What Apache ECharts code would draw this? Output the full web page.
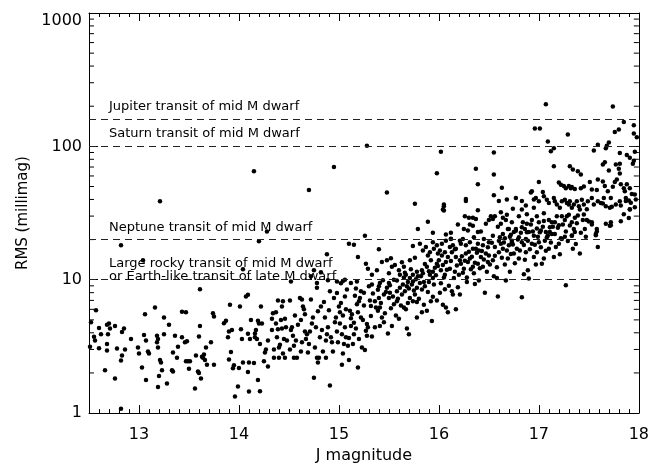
<!DOCTYPE html>
<html><head><meta charset="utf-8">
<script src="https://cdn.jsdelivr.net/npm/echarts@6/dist/echarts.min.js"></script>
<style>html,body{margin:0;padding:0;background:#fff}#c{width:652px;height:469px}</style>
</head><body><div id="c"></div>
<script>
// [J magnitude, RMS (millimag)]
const starsBright = [[13.21,38.7],[12.52,4.8],[12.57,5.9],[12.51,3.15],[12.55,3.73],[12.56,3.5],[12.60,4.34],[12.60,3.06],[12.62,3.9],[12.66,2.1],[12.68,4.6],[12.68,3.3],[12.69,3.9],[12.70,4.7],[12.71,4.3],[12.68,2.95],[12.76,4.5],[12.76,1.82],[12.78,3.05],[12.83,4.05],[12.85,4.3],[12.82,2.48],[12.83,2.7],[12.86,3.0],[12.82,1.08],[12.92,3.6],[12.99,3.1],[13.00,2.8],[13.03,2.2],[13.06,5.5],[13.05,3.85],[13.07,3.5],[13.07,1.77],[13.09,2.9],[13.10,2.8],[13.16,6.2],[13.18,3.4],[13.18,3.8],[13.19,3.6],[13.19,3.1],[13.19,1.57],[13.20,1.9],[13.21,2.5],[13.22,2.4],[13.23,2.1],[13.25,5.2],[13.25,3.9],[13.28,1.67],[13.30,4.6],[13.33,2.1],[13.34,2.05],[13.34,2.85],[13.36,3.8],[13.38,2.6],[13.39,3.15],[13.43,5.75],[13.43,3.7],[13.47,5.7],[13.47,2.45],[13.46,3.4],[13.48,3.45],[13.49,2.45],[13.50,2.15],[13.51,2.45],[13.56,1.53],[13.57,2.7],[13.59,2.05],[13.60,2.0],[13.60,3.75],[13.61,4.5],[13.62,1.82],[13.63,2.65],[13.64,2.6],[13.65,2.75],[13.66,2.5],[13.67,3.1],[13.68,2.3],[13.72,3.4],[13.74,5.6],[13.75,5.3],[13.75,2.3],[13.85,4.72],[13.87,4.93],[13.89,3.7],[13.90,4.1],[13.90,2.52],[13.91,6.5],[13.92,2.87],[13.93,4.2],[13.94,2.17],[13.95,2.28],[13.96,1.33],[13.99,1.58]];
const starsMid = [[14.00,2.18],[14.01,6.3],[14.02,4.25],[14.03,3.6],[14.04,2.4],[14.07,7.5],[14.09,2.03],[14.09,3.94],[14.10,2.4],[14.10,1.45],[14.11,3.6],[14.12,5.0],[14.15,2.37],[14.16,3.95],[14.16,3.7],[14.17,4.2],[14.18,3.6],[14.19,4.93],[14.19,1.77],[14.20,4.7],[14.21,1.46],[14.21,3.3],[14.22,6.3],[14.23,4.7],[14.25,2.45],[14.26,2.85],[14.27,3.0],[14.29,2.24],[14.29,3.5],[14.33,4.2],[14.33,5.1],[14.34,5.6],[14.35,2.6],[14.35,3.0],[14.37,4.7],[14.37,5.7],[14.38,3.7],[14.39,7.0],[14.39,4.25],[14.40,2.6],[14.40,3.1],[14.41,3.25],[14.42,5.0],[14.43,6.3],[14.43,4.3],[14.44,2.8],[14.45,3.6],[14.46,2.6],[14.46,5.1],[14.47,4.4],[14.48,3.5],[14.51,7.0],[14.51,3.0],[14.52,4.2],[14.53,4.4],[14.54,3.8],[14.55,2.6],[14.56,5.4],[14.57,3.5],[14.58,2.6],[14.61,7.3],[14.62,5.0],[14.63,3.4],[14.64,6.3],[14.65,6.0],[14.66,4.1],[14.67,3.6],[14.68,3.9],[14.69,2.85],[14.72,7.1],[14.73,4.7],[14.74,5.2],[14.75,1.84],[14.77,4.4],[14.78,2.6],[14.79,2.4],[14.80,2.6],[14.81,3.7],[14.85,6.8],[14.86,5.2],[14.87,2.6],[14.88,3.9],[14.89,4.4],[14.91,1.61],[14.92,3.7],[14.93,3.4],[14.95,7.3],[14.96,4.8],[14.97,5.2],[14.98,4.1],[15.00,6.3],[15.01,4.7],[15.02,6.7],[15.03,3.9],[15.04,5.4],[15.05,3.3],[15.06,4.4],[15.07,3.7],[14.09,7.7],[14.52,9.7],[14.72,10.6],[14.82,11.4],[14.78,9.45],[14.78,8.7],[14.89,9.9],[14.98,9.7],[14.98,7.95],[15.02,9.4],[15.04,9.8],[15.06,10],[15.06,7.5],[14.63,7.1],[14.44,6.9]];
const starsMidB = [[14.55,3.2],[14.59,4.6],[14.62,2.9],[14.66,5.5],[14.70,3.3],[14.71,4.1],[14.76,3.1],[14.79,5.8],[14.83,4.2],[14.84,2.9],[14.87,3.5],[14.90,5.9],[14.94,2.9],[14.99,3.4],[15.01,5.7],[15.04,2.8],[15.07,6.0],[15.09,3.2],[15.14,3.3],[15.17,4.3],[15.19,5.7],[15.23,3.1],[15.25,6.4],[15.29,4.4],[14.82,6.3],[14.91,8.2],[15.16,7.6],[15.21,7.3],[15.03,2.3],[15.10,2.5],[15.19,2.2]];
const starsOutlying = [[12.82,18.1],[13.04,14.0],[13.61,8.5],[14.04,12.0],[14.20,19.4],[14.28,23],[14.88,15.5],[14.75,11.8],[14.15,65],[14.70,47],[14.95,70],[15.28,101],[15.48,45]];
const starsFaintA = [[15.26,2.97],[15.20,3.6],[15.10,3.65],[15.15,3.9],[15.28,3.8],[15.33,3.75],[15.49,3.95],[15.68,4.3],[15.70,3.9],[15.12,4.5],[15.15,4.75],[15.27,4.15],[15.28,4.65],[15.41,4.5],[15.43,5.2],[15.12,5.15],[15.13,5.5],[15.11,5.85],[15.22,5.2],[15.24,5.0],[15.32,5.35],[15.39,5.85],[15.41,6.2],[15.18,6.55],[15.20,6.9],[15.32,6.35],[15.36,6.9],[15.40,7.3],[15.45,7.76],[15.50,7.3],[15.51,8.0],[15.55,6.55],[15.58,6.9],[15.65,6.2],[15.67,6.0],[15.78,5.2],[15.83,5.7],[15.88,5.85],[15.93,4.9],[15.94,7.45],[15.98,7.0],[16.01,8.0],[16.04,6.5],[16.07,6.2],[16.09,5.7],[16.13,8.2],[16.14,7.76],[16.17,6.0],[16.21,7.76],[15.71,7.3],[15.74,6.9],[15.78,6.8],[15.58,8.2],[15.61,8.7],[15.63,7.76],[15.66,8.2],[15.68,8.95],[15.73,9.2],[15.74,9.7],[15.76,7.76],[15.78,8.7],[15.81,9.45],[15.83,8.45],[15.86,8.95],[15.90,9.6],[15.94,10.3],[15.08,8.45],[15.17,8.6],[15.22,8.2],[15.25,8.0],[15.12,9.45],[15.18,9.7],[15.30,8.95],[15.33,9.2],[15.40,8.95],[15.41,9.45],[15.48,8.7],[15.50,9.45],[15.51,9.1],[15.55,10.0],[15.58,9.85],[15.65,10.4],[15.67,10.9],[15.69,9.6],[15.71,10.3],[15.74,10.9],[15.78,11.5],[15.79,10.6],[15.83,11.8],[15.84,11.2],[15.88,12.5],[15.91,10.9],[15.94,11.5],[15.96,12.3],[15.98,13.2],[16.00,14.0],[16.02,11.8],[16.04,12.9],[16.06,10.9],[16.07,13.6],[16.09,14.8],[16.11,12.1],[16.13,16.1],[16.16,11.5],[16.17,14.8],[16.21,14.0],[16.22,13.2],[16.25,12.1],[16.27,15.7],[16.29,13.6],[16.31,14.4],[16.34,12.5],[16.35,11.2],[16.37,17.1],[16.39,13.2],[16.40,9.85],[16.42,14.8],[16.44,12.5],[16.46,8.0],[16.49,13.6],[16.50,15.2],[16.54,14.0],[16.55,10.6],[16.59,7.5],[16.60,16.1],[16.62,18.6],[16.64,17.1],[16.67,9.85],[16.69,14.4],[16.70,18.1],[16.73,19.6],[16.75,15.7],[16.78,17.1],[16.80,14.4],[16.83,7.4],[16.83,19.1],[16.87,16.1],[16.89,11.8],[16.90,10.2],[16.93,18.6],[16.95,14.8],[16.98,16.1],[17.00,19.1],[17.03,13.2],[17.05,14.4],[17.06,19.6],[17.10,17.1],[17.15,14.8],[17.20,18.6],[17.23,20.2],[17.27,9.1],[17.33,21.4],[17.34,17.1],[17.41,15.7],[17.46,24],[17.53,26],[17.59,17.6]];
const starsFaintB = [[15.26,21.4],[15.15,18.3],[15.10,18.6],[15.40,16.9],[15.19,14.8],[15.27,13.2],[15.29,12.1],[15.33,10.9],[15.38,11.8],[15.43,13.6],[15.48,14.0],[15.52,14.5],[15.50,11.2],[15.53,12.5],[15.56,12.9],[15.60,11.8],[15.61,10.9],[15.65,12.5],[15.71,14.0],[15.74,17.9],[15.79,24],[15.81,18.6],[15.84,16.6],[15.87,17.6],[15.89,15.2],[15.91,16.1],[15.94,19.1],[15.95,17.1],[15.98,18.1],[15.99,15.7],[16.01,16.6],[16.03,18.6],[16.06,16.1],[16.07,19.6],[16.11,17.6],[16.12,20.2],[16.14,18.1],[16.17,17.1],[16.21,19.6],[16.22,18.6],[16.24,20.2],[16.27,18.1],[16.31,19.1],[16.34,17.1],[16.35,20.8],[16.39,18.6],[16.40,16.6],[16.44,18.1],[16.45,20.2],[16.47,15.7],[16.50,19.1],[16.54,21.4],[16.56,17.6],[16.60,19.6],[16.64,22],[16.66,20.5],[16.69,24],[16.72,21.7],[16.73,19.1],[16.77,23.3],[16.80,20.8],[16.83,24.7],[16.87,20.2],[16.88,22.7],[16.92,26],[16.95,21.4],[16.98,24.2],[17.01,22.7],[17.05,27.6],[17.08,20.8],[17.11,24.7],[17.13,22],[15.76,37.2],[16.05,35.6],[16.05,33],[15.89,27.2],[15.94,22.5],[17.57,21.6],[17.58,23],[17.72,25.6],[17.71,25.4],[17.91,33.7],[17.26,21]];
const starsFaintC = [[17.07,207],[17.74,199],[17.85,152],[17.95,144],[16.96,136],[17.01,136],[17.80,134],[17.76,128],[17.95,125],[17.98,117],[17.29,123],[17.09,109],[16.02,91],[16.55,90],[17.15,97],[17.12,92],[17.59,103],[17.55,93],[17.70,107],[17.68,101],[17.67,97],[17.81,89],[17.88,86],[17.91,82],[17.96,91],[17.95,78],[17.94,74],[17.81,74],[17.77,73],[17.15,71],[17.31,71],[17.34,67],[17.39,65],[17.42,61.5],[17.66,76],[17.64,73],[17.70,66],[17.80,68],[17.81,62.6],[16.37,68],[16.55,61.5],[16.39,52],[15.98,63],[17.00,54],[16.63,49],[17.20,53.7],[17.22,51.5],[17.25,50.5],[17.27,48.5],[17.30,50.5],[17.32,48.5],[17.33,49.5],[17.36,48],[17.42,48.5],[17.45,50],[17.51,54],[17.53,47.5],[17.58,47],[17.59,56.5],[17.64,54.5],[17.66,50.5],[17.69,46],[17.74,49.8],[17.76,54],[17.78,56.5],[17.82,52],[17.85,48.5],[17.88,52],[17.91,48.5],[17.93,44],[17.96,43.5],[17.86,46],[17.87,41],[17.90,39.3],[17.92,37.8],[17.91,33.6],[16.93,46],[16.97,41],[17.04,45.5],[17.05,42.2],[17.00,38.8],[17.08,39.8],[17.10,37.6],[17.15,41],[17.16,38.8],[17.18,36.6],[17.21,34.6],[17.23,38.8],[17.26,39.8],[17.28,37.6],[17.30,36.6],[17.31,38.8],[17.33,34.6],[17.35,36.6],[17.38,38.8],[17.40,35.6],[17.43,39.8],[17.45,36.6],[17.48,33.7],[17.49,38.8],[17.53,41],[17.55,36.6],[17.59,38.8],[17.62,37.6],[17.65,41],[17.67,35.6],[17.71,34.6],[17.72,41],[17.77,36.6],[17.81,38.8],[16.27,40.3],[16.27,39],[16.05,36.6],[16.04,33.6],[16.39,33.2],[16.19,25.9],[16.26,29.9],[16.30,29.2],[16.34,29.2],[16.37,28.5],[16.31,25.9],[16.34,25.4],[16.29,23.4],[16.39,22.8],[16.47,26.3],[16.50,28],[16.52,29.9],[16.54,28.5],[16.56,29.9],[16.59,25],[16.62,26.3],[16.64,29.2],[16.67,28],[16.68,30.7],[16.70,24],[16.73,27],[16.75,22.8],[16.77,24],[16.80,29.9],[16.83,33.6],[16.84,27],[16.86,24],[16.88,26.3],[16.90,22.8],[16.93,28],[16.95,34.6],[16.98,29.9],[17.00,27],[17.02,23.4],[17.05,31.5],[17.07,22.8],[17.10,28],[17.11,22.8],[17.14,25],[17.16,27],[17.18,29.9],[17.20,25.6],[17.23,29.9],[17.26,28],[17.28,29.9],[17.30,30.7],[17.33,27],[17.36,29.2],[17.39,30.3],[17.41,33.6],[17.45,30.9],[17.48,28],[17.50,27.3],[17.53,27],[17.58,24],[17.57,22],[17.67,26.3],[17.72,27],[17.33,21.5],[17.36,22.8],[16.07,21.8],[16.12,20.3],[17.85,31],[17.90,29],[17.96,35],[17.82,27.5],[17.97,40],[17.64,37.3],[17.73,35.2],[17.82,36],[17.87,39],[16.55,43],[16.60,39],[16.68,40],[16.77,41],[16.83,39],[16.87,36],[16.92,45],[16.95,40]];
const starsFaintD = [[15.31,7.0],[15.34,7.9],[15.37,6.2],[15.39,8.4],[15.42,6.7],[15.44,9.9],[15.46,5.6],[15.47,8.1],[15.52,6.1],[15.54,7.5],[15.57,5.4],[15.59,7.2],[15.36,4.4],[15.45,4.8],[15.53,4.5],[15.60,5.1],[15.62,6.4],[15.64,9.2],[15.66,11.3],[15.69,6.7],[15.70,8.6],[15.72,12.0],[15.75,8.3],[15.77,10.1],[15.80,7.2],[15.82,10.6],[15.85,9.6],[15.86,13.1],[15.89,8.1],[15.90,11.6],[15.92,14.0],[15.95,9.2],[15.97,10.8],[15.99,12.7],[15.63,13.5],[15.76,14.6],[15.85,6.5],[15.92,6.9],[16.02,9.4],[16.03,15.2],[16.05,10.4],[16.08,11.9],[16.10,9.0],[16.12,13.8],[16.15,10.3],[16.16,16.9],[16.18,12.8],[16.20,10.9],[16.23,15.0],[16.24,11.3],[16.26,13.9],[16.28,10.4],[16.30,16.2],[16.32,12.0],[16.33,14.9],[16.36,13.4],[16.38,15.9],[16.41,12.2],[16.43,16.4],[16.45,14.2],[16.48,11.5],[16.49,17.5],[16.06,8.5],[16.19,8.8],[16.28,9.6],[16.36,9.3],[16.12,22.5],[16.25,24.0],[16.42,23.0],[16.51,13.0],[16.53,18.9],[16.56,15.1],[16.58,12.4],[16.61,20.8],[16.63,14.6],[16.65,19.0],[16.66,13.0],[16.68,16.6],[16.71,21.0],[16.72,15.6],[16.74,18.4],[16.76,13.3],[16.79,20.0],[16.81,16.6],[16.82,22.5],[16.85,18.2],[16.86,14.1],[16.89,19.6],[16.91,16.9],[16.94,23.0],[16.96,18.3],[16.97,13.0],[16.99,21.0],[16.58,10.3],[16.71,11.5],[16.85,11.0],[16.62,32.0],[16.74,34.0],[16.88,31.0],[17.02,17.5],[17.04,25.0],[17.07,16.5],[17.09,21.5],[17.12,19.0],[17.13,27.0],[17.16,22.0],[17.17,17.6],[17.19,24.5],[17.22,20.5],[17.24,26.0],[17.27,23.0],[17.29,19.5],[17.31,25.5],[17.35,24.0],[17.38,26.5],[17.42,22.5],[17.44,28.0],[17.47,21.0],[17.21,15.5],[17.37,18.5]];

const xRange = [12.5, 18];
const yRange = [1, 1000];
const yMinorTicks = [2,3,4,5,6,7,8,9,20,30,40,50,60,70,80,90,200,300,400,500,600,700,800,900];
const transitLevels = [160, 100, 20, 10];
const transitLabels = [
  'Jupiter transit of mid M dwarf',
  'Saturn transit of mid M dwarf',
  'Neptune transit of mid M dwarf',
  'Large rocky transit of mid M dwarf\nor Earth-like transit of late M dwarf'
];
const transitLabelLift = [6, 6, 6, -3];

const FONT = 'DejaVu Sans';
const allStars = [].concat(starsBright, starsMid, starsMidB, starsOutlying, starsFaintA, starsFaintB, starsFaintC, starsFaintD);

const chart = echarts.init(document.getElementById('c'), null, {renderer: 'canvas'});
const axisLine = {show: true, onZero: false, lineStyle: {color: '#000', width: 1}};
const tickStyle = {color: '#000', width: 1};

chart.setOption({
  animation: false,
  backgroundColor: '#fff',
  grid: {left: 89, right: 9, top: 13, bottom: 48},
  xAxis: [
    {type: 'value', min: xRange[0], max: xRange[1], splitNumber: 5, position: 'bottom',
     axisLine: axisLine,
     axisTick: {inside: true, length: 8, lineStyle: tickStyle},
     minorTick: {show: true, splitNumber: 10, length: 4, lineStyle: tickStyle},
     splitLine: {show: false}, minorSplitLine: {show: false},
     axisLabel: {color: '#000', fontFamily: FONT, fontSize: 16, margin: 14,
       formatter: v => Number.isInteger(v) ? String(v) : ''},
     name: 'J magnitude', nameLocation: 'middle', nameGap: 29,
     nameTextStyle: {color: '#000', fontFamily: FONT, fontSize: 16}},
    {type: 'value', min: xRange[0], max: xRange[1], splitNumber: 5, position: 'top',
     axisLine: axisLine,
     axisTick: {inside: true, length: 8, lineStyle: tickStyle},
     minorTick: {show: true, splitNumber: 10, length: 4, lineStyle: tickStyle},
     splitLine: {show: false}, axisLabel: {show: false}}
  ],
  yAxis: [
    {type: 'log', logBase: 10, min: yRange[0], max: yRange[1], position: 'left',
     axisLine: axisLine,
     axisTick: {inside: true, length: 9, lineStyle: tickStyle},
     minorTick: {show: false}, splitLine: {show: false},
     axisLabel: {color: '#000', fontFamily: FONT, fontSize: 16, margin: 7,
       formatter: v => String(Math.round(v)),
       verticalAlignMaxLabel: 'top'},
     name: 'RMS (millimag)', nameLocation: 'middle', nameGap: 45, nameRotate: 90,
     nameTextStyle: {color: '#000', fontFamily: FONT, fontSize: 15}},
    {type: 'log', logBase: 10, min: yRange[0], max: yRange[1], position: 'right',
     axisLine: axisLine,
     axisTick: {inside: true, length: 9, lineStyle: tickStyle},
     minorTick: {show: false}, splitLine: {show: false}, axisLabel: {show: false}}
  ],
  series: [
    {type: 'scatter', xAxisIndex: 0, yAxisIndex: 0, data: allStars,
     symbol: 'circle', symbolSize: 4.5, itemStyle: {color: '#000', opacity: 1},
     silent: true, emphasis: {disabled: true},
     markLine: {
       silent: true, symbol: ['none', 'none'], animation: false,
       lineStyle: {type: [7, 5], color: '#222', width: 1},
       label: {show: true, position: 'insideStartTop',
         color: '#000', fontFamily: FONT, fontSize: 13, lineHeight: 12.5},
       emphasis: {disabled: true},
       data: transitLevels.map((v, i) => ({yAxis: v,
         label: {formatter: transitLabels[i], distance: [20, transitLabelLift[i]]}}))
     }},
    {type: 'custom', xAxisIndex: 0, yAxisIndex: 0, silent: true, clip: false,
     data: yMinorTicks.map(v => [xRange[0], v]),
     encode: {x: 0, y: 1},
     renderItem: function (params, api) {
       const v = api.value(1);
       const pl = api.coord([xRange[0], v]);
       const pr = api.coord([xRange[1], v]);
       const st = {stroke: '#000', lineWidth: 1};
       return {type: 'group', children: [
         {type: 'line', shape: {x1: pl[0], y1: pl[1], x2: pl[0] + 5, y2: pl[1]}, style: st},
         {type: 'line', shape: {x1: pr[0], y1: pr[1], x2: pr[0] - 5, y2: pr[1]}, style: st}
       ]};
     }}
  ]
});
</script>
</body></html>
